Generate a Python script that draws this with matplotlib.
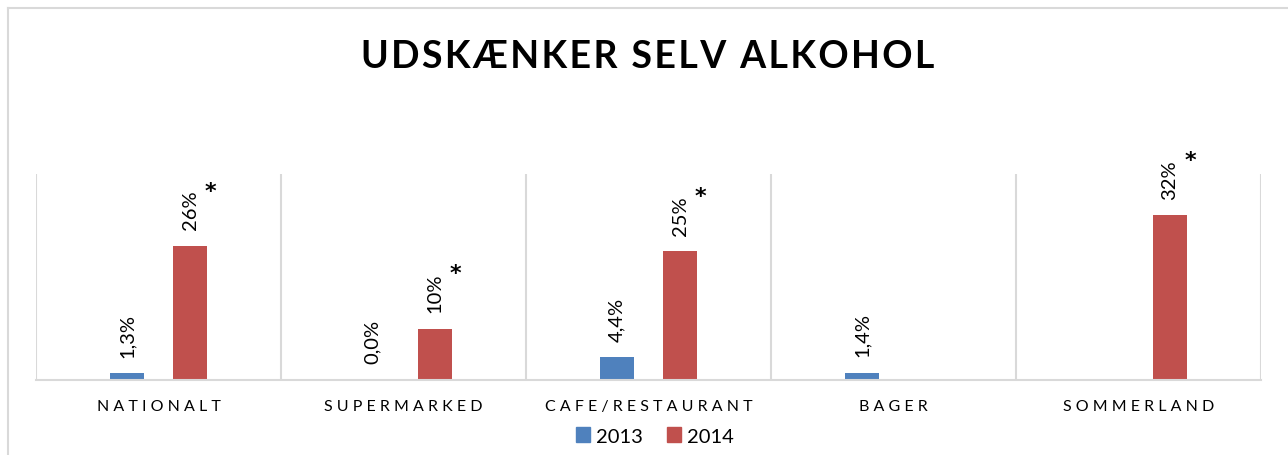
import numpy as np
import matplotlib
matplotlib.use("Agg")
from matplotlib import pyplot as plt
from matplotlib.lines import Line2D

plt.rcParams['font.family'] = ['Lato', 'DejaVu Sans']

title = "UDSKÆNKER SELV ALKOHOL"
categories = ["NATIONALT", "SUPERMARKED", "CAFE/RESTAURANT", "BAGER", "SOMMERLAND"]
years = ["2013", "2014"]
v2013 = [1.3, 0.0, 4.4, 1.4, None]
v2014 = [26, 10, 25, None, 32]
signif_2014 = [True, True, True, False, True]

blue = "#4F81BD"
red = "#C0504D"
grid_col = "#D9D9D9"


def fmt(v, dec):
    return (f"{v:.{dec}f}%").replace(".", ",")


def spaced(s, sep=" "):
    return sep.join(s)


fig = plt.figure(figsize=(12.88, 4.56), dpi=100)
ax = fig.add_axes([36/1288, 75/456, 1225/1288, 206/456])

x = np.arange(len(categories))
w = 0.135
off = 0.1286

for i in range(len(categories)):
    if v2013[i] is not None:
        ax.bar(x[i] - off, v2013[i], w, color=blue)
        ax.annotate(fmt(v2013[i], 1), (x[i] - off, v2013[i]), xytext=(0, 12),
                    textcoords="offset points", rotation=90, ha="center", va="bottom",
                    fontsize=14.5)
    if v2014[i] is not None:
        ax.bar(x[i] + off, v2014[i], w, color=red)
        ax.annotate(fmt(v2014[i], 0), (x[i] + off, v2014[i]), xytext=(0, 12),
                    textcoords="offset points", rotation=90, ha="center", va="bottom",
                    fontsize=14.5)
        if signif_2014[i]:
            ax.annotate("*", (x[i] + off, v2014[i]), xytext=(15, 40),
                        textcoords="offset points", ha="center", va="center",
                        fontsize=16, fontweight="bold", family="DejaVu Sans")

ax.set_xlim(-0.5, len(categories) - 0.5)
ax.set_ylim(0, 40)
ax.set_yticks([])
ax.set_xticks(x)
ax.set_xticklabels([spaced(c) for c in categories], fontsize=11.5)
ax.tick_params(axis="x", length=0, pad=14)
ax.set_xticks(np.arange(-0.5, len(categories)), minor=True)
ax.tick_params(axis="x", which="minor", length=0)
ax.grid(axis="x", which="minor", color=grid_col, linewidth=1.5)
ax.set_axisbelow(True)
for s in ["top", "left", "right"]:
    ax.spines[s].set_visible(False)
ax.spines["bottom"].set_color(grid_col)
ax.spines["bottom"].set_linewidth(1.5)

fig.text(648/1288, 1 - 57/456, spaced(title, "\u200a"), ha="center", va="center",
         fontsize=27, fontweight="bold")

handles = [plt.Rectangle((0, 0), 1, 1, color=blue), plt.Rectangle((0, 0), 1, 1, color=red)]
fig.legend(handles, years, loc="center", bbox_to_anchor=(655/1288, 1 - 437/456),
           ncol=2, frameon=False, fontsize=14.5, handlelength=0.7, handleheight=0.7,
           handletextpad=0.3, columnspacing=1.2)

# outer chart frame
fig.add_artist(Line2D([7.5/1288, 7.5/1288], [0, 1 - 9/456], color=grid_col, lw=1.5,
                      transform=fig.transFigure))
fig.add_artist(Line2D([7.5/1288, 1], [1 - 9/456, 1 - 9/456], color=grid_col, lw=1.5,
                      transform=fig.transFigure))

fig.savefig("out.png", dpi=100)
